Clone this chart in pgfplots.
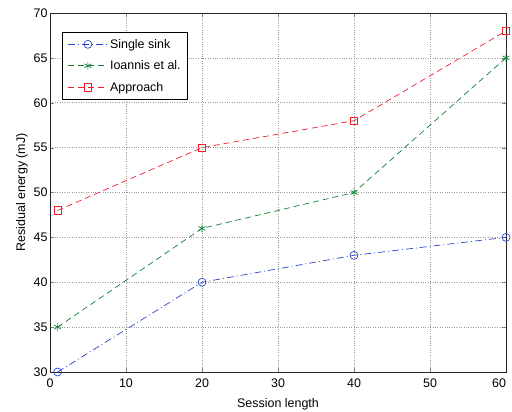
\documentclass[border=0pt]{standalone}
\usepackage{pgfplots}
\pgfplotsset{compat=1.18}
\usepackage{fontspec}
\setmainfont{Liberation Sans}
\begin{document}
\begin{tikzpicture}[x=1bp,y=1bp]
\begin{axis}[
  at={(0,0)}, anchor=south west,
  scale only axis, width=456bp, height=359bp,
  xmin=0, xmax=60, ymin=30, ymax=70,
  xtick={0,10,...,60}, ytick={30,35,...,70},
  xticklabels={0,10,20,30,40,50,\llap{60}},
  grid=major, grid style={dotted, gray!80, line width=0.6pt},
  tick align=inside, tick pos=both,
  axis line style={line width=0.9pt, black!85},
  major tick length=4bp,
  tick label style={font=\fontsize{12.5}{14}\selectfont},
  xticklabel style={yshift=-3bp},
  yticklabel style={xshift=1bp},
  label style={font=\fontsize{12.5}{14}\selectfont},
  /pgf/number format/assume math mode=true,
  xlabel={Session length}, ylabel={Residual energy (mJ)},
  xlabel style={yshift=-4bp}, ylabel style={yshift=-1bp},
  legend style={at={(0.027,0.948)}, anchor=north west, font=\fontsize{12.5}{14}\selectfont, draw=black, line width=0.8pt, row sep=7pt, inner xsep=5pt, inner ysep=5pt},
  legend cell align=left,
  legend image code/.code={\draw[mark repeat=2,mark phase=2] plot coordinates {(0cm,0cm) (0.7cm,0cm) (1.4cm,0cm)};},
  every axis plot/.append style={line width=0.7pt},
]
\addplot[color={rgb,255:red,40;green,70;blue,200}, dash pattern=on 7pt off 3pt on 1pt off 3pt, mark=o, mark size=4bp, mark options={solid}] coordinates {(1,30) (20,40) (40,43) (60,45)};
\addlegendentry{Single sink}
\addplot[color={rgb,255:red,10;green,130;blue,50}, dash pattern=on 6pt off 4pt, mark=asterisk, mark size=4bp, mark options={solid}] coordinates {(1,35) (20,46) (40,50) (60,65)};
\addlegendentry{Ioannis et al.}
\addplot[color={rgb,255:red,240;green,30;blue,40}, dash pattern=on 6pt off 4pt, mark=square, mark size=3.6bp, mark options={solid}] coordinates {(1,48) (20,55) (40,58) (60,68)};
\addlegendentry{Approach}
\end{axis}
\pgfresetboundingbox
\path[use as bounding box] (-50bp,-40bp) rectangle (462bp,372bp);
\end{tikzpicture}
\end{document}
